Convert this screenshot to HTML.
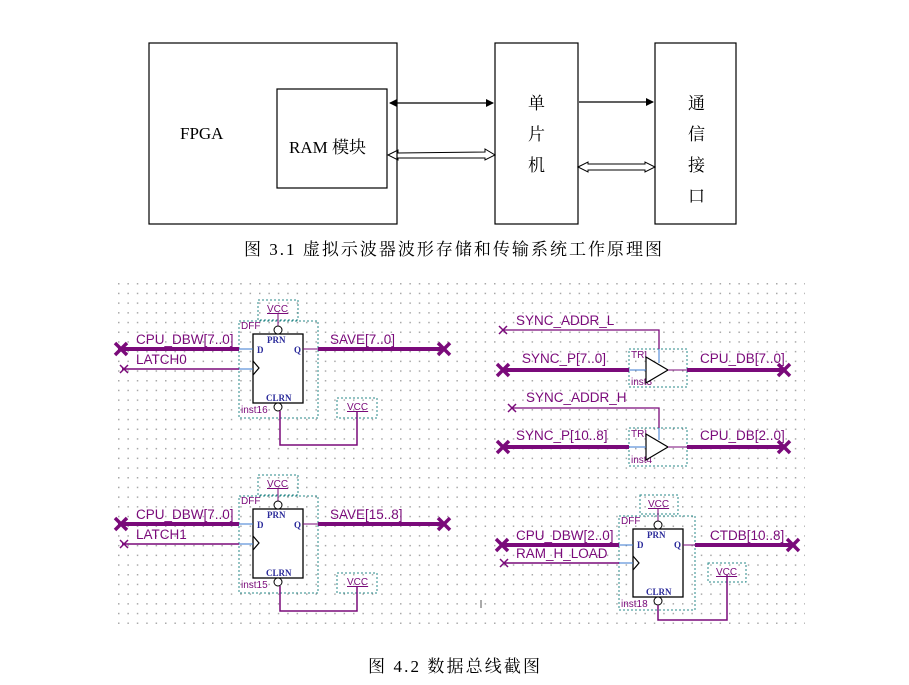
<!DOCTYPE html>
<html><head><meta charset="utf-8"><style>
html,body{margin:0;padding:0;background:#fff;}
svg{display:block;}
.s{font-family:"Liberation Serif","Noto Serif CJK SC",serif;fill:#000;}
.a{font-family:"Liberation Sans",sans-serif;fill:#7a0a7a;font-size:13.5px;}
.sm{font-family:"Liberation Sans",sans-serif;fill:#7a0a7a;font-size:10px;}
.bl{font-family:"Liberation Serif",serif;fill:#2a2a9a;font-size:9px;font-weight:bold;}
</style></head><body>
<svg width="909" height="685" viewBox="0 0 909 685" xmlns="http://www.w3.org/2000/svg">
<defs>
<pattern id="g" x="118" y="283" width="9.4" height="9.7" patternUnits="userSpaceOnUse">
<rect x="0" y="0" width="1.5" height="1.5" fill="#a8a8a8"/>
</pattern>
<marker id="ah" markerWidth="8" markerHeight="8" refX="7" refY="4" orient="auto" markerUnits="userSpaceOnUse"><path d="M0,0 L8,4 L0,8 z" fill="#000"/></marker>
<marker id="ahs" markerWidth="8" markerHeight="8" refX="1" refY="4" orient="auto" markerUnits="userSpaceOnUse"><path d="M8,0 L0,4 L8,8 z" fill="#000"/></marker>
<g id="bx"><path d="M-6,-6 L6,6 M-6,6 L6,-6" stroke="#7a0a7a" stroke-width="3.5"/></g>
<g id="sx"><path d="M-4,-4 L4,4 M-4,4 L4,-4" stroke="#7a0a7a" stroke-width="1.5"/></g>
</defs>
<rect width="909" height="685" fill="#fff"/>
<g fill="none" stroke="#000" stroke-width="1.2">
<rect x="149" y="43" width="248" height="181"/>
<rect x="277" y="89" width="110" height="99"/>
<rect x="495" y="43" width="83" height="181"/>
<rect x="655" y="43" width="81" height="181"/>
<line x1="390" y1="103" x2="493" y2="103" marker-end="url(#ah)" marker-start="url(#ahs)"/>
<line x1="579" y1="102" x2="653" y2="102" marker-end="url(#ah)"/>
<path d="M388,155 L398,150 L398,153 L485,152 L485,149 L495,155 L485,160 L485,158 L398,158 L398,160 Z" stroke-width="1"/>
<path d="M578,167 L588,162 L588,164 L645,164 L645,162 L655,167 L645,172 L645,170 L588,170 L588,172 Z" stroke-width="1"/>
</g>
<text class="s" x="180" y="139" font-size="17">FPGA</text>
<text class="s" x="289" y="153" font-size="17">RAM 模块</text>
<text class="s" x="528" y="109" font-size="17">单</text>
<text class="s" x="528" y="140" font-size="17">片</text>
<text class="s" x="528" y="171" font-size="17">机</text>
<text class="s" x="688" y="109" font-size="17">通</text>
<text class="s" x="688" y="140" font-size="17">信</text>
<text class="s" x="688" y="171" font-size="17">接</text>
<text class="s" x="688" y="202" font-size="17">口</text>
<text class="s" x="244" y="255" font-size="17" textLength="418" lengthAdjust="spacing">图 3.1 虚拟示波器波形存储和传输系统工作原理图</text>
<rect x="115" y="282" width="690" height="342" fill="url(#g)"/>
<g>
<rect x="239" y="321" width="79" height="97" fill="none" stroke="#2a8a8a" stroke-dasharray="2,2"/>
<rect x="258" y="300" width="40" height="20" fill="none" stroke="#2a8a8a" stroke-dasharray="2,2"/>
<text class="sm" x="267" y="312" text-decoration="underline">VCC</text>
<line x1="278" y1="313" x2="278" y2="326" stroke="#7a0a7a"/>
<rect x="253" y="334" width="50" height="69" fill="#fff" stroke="#000" stroke-width="1.3"/>
<circle cx="278" cy="330" r="4" fill="#fff" stroke="#000"/>
<circle cx="278" cy="407" r="4" fill="#fff" stroke="#000"/>
<text class="bl" x="267" y="343">PRN</text>
<text class="bl" x="266" y="401">CLRN</text>
<text class="bl" x="257" y="353">D</text>
<text class="bl" x="294" y="353">Q</text>
<text class="sm" x="241" y="329">DFF</text>
<text class="sm" x="241" y="413">inst16</text>
<path d="M253,361 L259,368 L253,375" fill="none" stroke="#000" stroke-width="1.2"/>
<line x1="239" y1="349" x2="253" y2="349" stroke="#3a7ad0"/>
<line x1="239" y1="369" x2="253" y2="369" stroke="#3a7ad0"/>
<line x1="303" y1="349" x2="318" y2="349" stroke="#7a0a7a"/>
<line x1="118" y1="349" x2="239" y2="349" stroke="#7a0a7a" stroke-width="4"/>
<line x1="122" y1="369" x2="239" y2="369" stroke="#7a0a7a" stroke-width="1.5"/>
<line x1="318" y1="349" x2="443" y2="349" stroke="#7a0a7a" stroke-width="4"/>
<use href="#bx" x="121" y="349"/><use href="#sx" x="124" y="369"/><use href="#bx" x="444" y="349"/>
<rect x="337" y="398" width="40" height="20" fill="none" stroke="#2a8a8a" stroke-dasharray="2,2"/>
<text class="sm" x="347" y="410" text-decoration="underline">VCC</text>
<path d="M280,411 L280,445 L357,445 L357,411" fill="none" stroke="#7a0a7a" stroke-width="1.5"/>
</g>
<text class="a" x="136" y="344">CPU_DBW[7..0]</text>
<text class="a" x="136" y="364">LATCH0</text>
<text class="a" x="330" y="344">SAVE[7..0]</text>
<g transform="translate(0,175)">
<rect x="239" y="321" width="79" height="97" fill="none" stroke="#2a8a8a" stroke-dasharray="2,2"/>
<rect x="258" y="300" width="40" height="20" fill="none" stroke="#2a8a8a" stroke-dasharray="2,2"/>
<text class="sm" x="267" y="312" text-decoration="underline">VCC</text>
<line x1="278" y1="313" x2="278" y2="326" stroke="#7a0a7a"/>
<rect x="253" y="334" width="50" height="69" fill="#fff" stroke="#000" stroke-width="1.3"/>
<circle cx="278" cy="330" r="4" fill="#fff" stroke="#000"/>
<circle cx="278" cy="407" r="4" fill="#fff" stroke="#000"/>
<text class="bl" x="267" y="343">PRN</text>
<text class="bl" x="266" y="401">CLRN</text>
<text class="bl" x="257" y="353">D</text>
<text class="bl" x="294" y="353">Q</text>
<text class="sm" x="241" y="329">DFF</text>
<text class="sm" x="241" y="413">inst15</text>
<path d="M253,361 L259,368 L253,375" fill="none" stroke="#000" stroke-width="1.2"/>
<line x1="239" y1="349" x2="253" y2="349" stroke="#3a7ad0"/>
<line x1="239" y1="369" x2="253" y2="369" stroke="#3a7ad0"/>
<line x1="303" y1="349" x2="318" y2="349" stroke="#7a0a7a"/>
<line x1="118" y1="349" x2="239" y2="349" stroke="#7a0a7a" stroke-width="4"/>
<line x1="122" y1="369" x2="239" y2="369" stroke="#7a0a7a" stroke-width="1.5"/>
<line x1="318" y1="349" x2="443" y2="349" stroke="#7a0a7a" stroke-width="4"/>
<use href="#bx" x="121" y="349"/><use href="#sx" x="124" y="369"/><use href="#bx" x="444" y="349"/>
<rect x="337" y="398" width="40" height="20" fill="none" stroke="#2a8a8a" stroke-dasharray="2,2"/>
<text class="sm" x="347" y="410" text-decoration="underline">VCC</text>
<path d="M280,411 L280,436 L357,436 L357,411" fill="none" stroke="#7a0a7a" stroke-width="1.5"/>
<text class="a" x="136" y="344">CPU_DBW[7..0]</text>
<text class="a" x="136" y="364">LATCH1</text>
<text class="a" x="330" y="344">SAVE[15..8]</text>
</g>
<g transform="translate(380,195)">
<rect x="239" y="321" width="76" height="94" fill="none" stroke="#2a8a8a" stroke-dasharray="2,2"/>
<rect x="260" y="300" width="38" height="19" fill="none" stroke="#2a8a8a" stroke-dasharray="2,2"/>
<text class="sm" x="268" y="312" text-decoration="underline">VCC</text>
<line x1="278" y1="313" x2="278" y2="326" stroke="#7a0a7a"/>
<rect x="253" y="334" width="50" height="68" fill="#fff" stroke="#000" stroke-width="1.3"/>
<circle cx="278" cy="330" r="4" fill="#fff" stroke="#000"/>
<circle cx="278" cy="406" r="4" fill="#fff" stroke="#000"/>
<text class="bl" x="267" y="343">PRN</text>
<text class="bl" x="266" y="400">CLRN</text>
<text class="bl" x="257" y="353">D</text>
<text class="bl" x="294" y="353">Q</text>
<text class="sm" x="241" y="329">DFF</text>
<text class="sm" x="241" y="412">inst18</text>
<path d="M253,361 L259,368 L253,375" fill="none" stroke="#000" stroke-width="1.2"/>
<line x1="239" y1="350" x2="253" y2="350" stroke="#3a7ad0"/>
<line x1="239" y1="368" x2="253" y2="368" stroke="#3a7ad0"/>
<line x1="303" y1="350" x2="315" y2="350" stroke="#7a0a7a"/>
<line x1="123" y1="350" x2="239" y2="350" stroke="#7a0a7a" stroke-width="4"/>
<line x1="123" y1="368" x2="239" y2="368" stroke="#7a0a7a" stroke-width="1.5"/>
<line x1="315" y1="350" x2="412" y2="350" stroke="#7a0a7a" stroke-width="4"/>
<use href="#bx" x="122" y="350"/><use href="#sx" x="124" y="368"/><use href="#bx" x="413" y="350"/>
<rect x="328" y="368" width="38" height="19" fill="none" stroke="#2a8a8a" stroke-dasharray="2,2"/>
<text class="sm" x="336" y="380" text-decoration="underline">VCC</text>
<path d="M278,410 L278,425 L347,425 L347,380" fill="none" stroke="#7a0a7a" stroke-width="1.5"/>
<text class="a" x="136" y="345">CPU_DBW[2..0]</text>
<text class="a" x="136" y="363">RAM_H_LOAD</text>
<text class="a" x="330" y="345">CTDB[10..8]</text>
</g>
<g>
<rect x="629" y="349" width="58" height="38" fill="none" stroke="#2a8a8a" stroke-dasharray="2,2"/>
<text class="sm" x="631" y="358" font-size="9">TRI</text>
<text class="sm" x="631" y="385" font-size="9">inst3</text>
<path d="M646,357 L668,370 L646,383 Z" fill="#fff" stroke="#000" stroke-width="1.2"/>
<line x1="629" y1="370" x2="646" y2="370" stroke="#3a7ad0"/>
<line x1="668" y1="370" x2="687" y2="370" stroke="#7a0a7a"/>
<line x1="503" y1="370" x2="629" y2="370" stroke="#7a0a7a" stroke-width="4"/>
<line x1="687" y1="370" x2="783" y2="370" stroke="#7a0a7a" stroke-width="4"/>
<use href="#bx" x="503" y="370"/><use href="#bx" x="784" y="370"/>
<path d="M503,330 L659,330 L659,349" fill="none" stroke="#7a0a7a" stroke-width="1.3"/>
<line x1="659" y1="349" x2="659" y2="363" stroke="#3a7ad0"/>
<use href="#sx" x="503" y="330"/>
</g>
<text class="a" x="516" y="325">SYNC_ADDR_L</text>
<text class="a" x="522" y="363">SYNC_P[7..0]</text>
<text class="a" x="700" y="363">CPU_DB[7..0]</text>
<g>
<rect x="629" y="428" width="58" height="38" fill="none" stroke="#2a8a8a" stroke-dasharray="2,2"/>
<text class="sm" x="631" y="437" font-size="9">TRI</text>
<text class="sm" x="631" y="463" font-size="9">inst4</text>
<path d="M646,434 L668,447 L646,460 Z" fill="#fff" stroke="#000" stroke-width="1.2"/>
<line x1="629" y1="447" x2="646" y2="447" stroke="#3a7ad0"/>
<line x1="668" y1="447" x2="687" y2="447" stroke="#7a0a7a"/>
<line x1="503" y1="447" x2="629" y2="447" stroke="#7a0a7a" stroke-width="4"/>
<line x1="687" y1="447" x2="783" y2="447" stroke="#7a0a7a" stroke-width="4"/>
<use href="#bx" x="503" y="447"/><use href="#bx" x="784" y="447"/>
<path d="M512,408 L659,408 L659,428" fill="none" stroke="#7a0a7a" stroke-width="1.3"/>
<line x1="659" y1="428" x2="659" y2="440" stroke="#3a7ad0"/>
<use href="#sx" x="512" y="408"/>
</g>
<text class="a" x="526" y="402">SYNC_ADDR_H</text>
<text class="a" x="516" y="440">SYNC_P[10..8]</text>
<text class="a" x="700" y="440">CPU_DB[2..0]</text>
<line x1="481" y1="600" x2="481" y2="608" stroke="#555"/>
<text class="s" x="368" y="672" font-size="17" textLength="172" lengthAdjust="spacing">图 4.2 数据总线截图</text>
</svg>
</body></html>
